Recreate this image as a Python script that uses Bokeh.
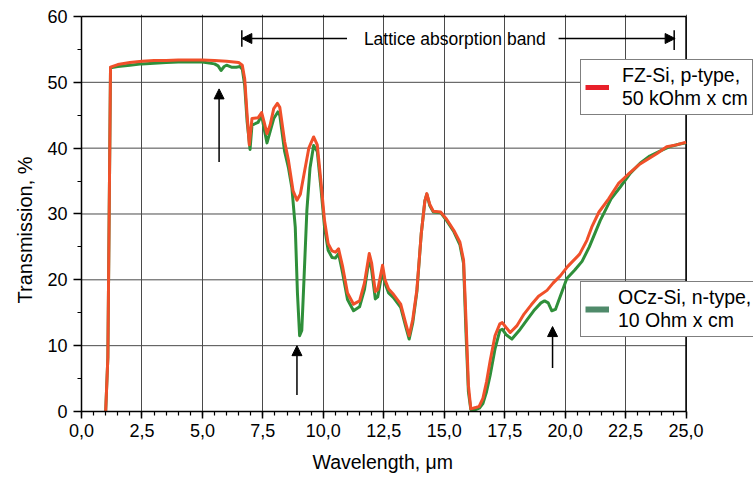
import math
from bokeh.plotting import figure
from bokeh.models import (Range1d, SingleIntervalTicker, CustomJSTickFormatter, Legend, LegendItem,
                          Arrow, NormalHead, Label, Title)
from bokeh.embed import file_html
from bokeh.resources import INLINE

# FZ-Si, p-type, 50 kOhm x cm
fz_x = [1.0, 1.09, 1.2, 1.5, 2.0, 2.5, 3.0, 3.5, 4.0, 4.5, 5.0, 5.5, 6.0, 6.5, 6.65, 6.75, 6.85, 6.94,
        7.05, 7.3, 7.45, 7.55, 7.67, 7.8, 7.95, 8.1, 8.2, 8.4, 8.56, 8.75, 8.91, 9.05, 9.2, 9.4, 9.6,
        9.75, 9.9, 10.05, 10.2, 10.36, 10.5, 10.63, 10.8, 11.0, 11.25, 11.5, 11.7, 11.9, 12.0, 12.15,
        12.25, 12.45, 12.55, 12.7, 12.9, 13.2, 13.4, 13.55, 13.7, 13.87, 14.05, 14.2, 14.28, 14.4,
        14.55, 14.85, 15.1, 15.4, 15.65, 15.8, 15.9, 16.0, 16.1, 16.3, 16.45, 16.6, 16.75, 16.9, 17.1,
        17.3, 17.4, 17.55, 17.73, 18.0, 18.3, 18.6, 18.9, 19.25, 19.5, 19.8, 20.1, 20.6, 20.9, 21.1,
        21.4, 21.8, 22.2, 22.6, 23.1, 23.5, 23.8, 24.2, 24.6, 25.0]
fz_y = [0.0, 8.2, 52.3, 52.7, 53.0, 53.2, 53.3, 53.3, 53.4, 53.4, 53.4, 53.3, 53.2, 53.0, 52.6, 50.5,
        45.0, 40.5, 44.5, 44.6, 45.4, 44.0, 42.2, 43.5, 46.0, 46.8, 46.2, 41.0, 38.1, 33.5, 32.1, 33.0,
        36.0, 40.0, 41.7, 40.5, 35.0, 29.0, 25.5, 24.4, 24.2, 24.7, 22.0, 18.0, 16.3, 16.8, 19.5, 24.0,
        22.5, 18.2, 18.5, 22.2, 20.0, 18.6, 17.8, 16.3, 13.5, 11.5, 14.0, 18.5, 27.0, 32.0, 33.1, 31.5,
        30.4, 30.3, 29.2, 27.5, 25.7, 23.0, 14.0, 4.0, 0.4, 0.6, 0.8, 2.0, 4.5, 7.7, 11.5, 13.3, 13.5,
        12.8, 12.0, 13.0, 14.8, 16.2, 17.5, 18.4, 19.5, 20.6, 22.0, 23.9, 26.0, 28.0, 30.3, 32.3, 34.6,
        36.0, 37.6, 38.5, 39.2, 40.2, 40.5, 40.9]

# OCz-Si, n-type, 10 Ohm x cm
ocz_x = [1.0, 1.09, 1.2, 1.5, 2.0, 2.5, 3.0, 3.5, 4.0, 4.5, 5.0, 5.5, 5.65, 5.77, 5.9, 6.0, 6.2, 6.4,
         6.55, 6.65, 6.75, 6.85, 6.97, 7.05, 7.3, 7.45, 7.55, 7.67, 7.8, 7.95, 8.12, 8.2, 8.4, 8.56,
         8.7, 8.84, 8.93, 9.02, 9.11, 9.2, 9.32, 9.45, 9.6, 9.75, 9.9, 10.05, 10.2, 10.36, 10.5, 10.63,
         10.8, 11.0, 11.25, 11.5, 11.7, 11.9, 12.0, 12.15, 12.25, 12.45, 12.55, 12.7, 12.9, 13.2, 13.4,
         13.55, 13.7, 13.87, 14.05, 14.2, 14.28, 14.4, 14.55, 14.85, 15.1, 15.4, 15.65, 15.8, 15.9,
         16.0, 16.1, 16.3, 16.45, 16.6, 16.75, 16.9, 17.1, 17.3, 17.4, 17.55, 17.8, 18.1, 18.4, 18.7,
         19.0, 19.15, 19.3, 19.45, 19.6, 19.8, 20.07, 20.4, 20.7, 21.0, 21.45, 21.9, 22.28, 22.7, 23.1,
         23.5, 23.9, 24.3, 24.7, 25.0]
ocz_y = [0.0, 8.2, 52.2, 52.4, 52.6, 52.8, 52.9, 53.0, 53.1, 53.1, 53.1, 52.8, 52.5, 51.8, 52.4, 52.6,
         52.3, 52.3, 52.4, 52.0, 49.5, 44.0, 39.8, 43.5, 43.9, 45.0, 43.0, 40.8, 42.5, 44.5, 45.5, 45.0,
         39.5, 37.0, 34.0, 28.0, 18.0, 11.5, 12.3, 20.0, 30.5, 37.0, 40.4, 39.5, 34.0, 28.0, 24.5, 23.4,
         23.3, 24.0, 21.0, 17.0, 15.3, 15.9, 18.5, 23.3, 21.5, 17.1, 17.4, 21.5, 19.5, 18.0, 17.3, 15.8,
         13.0, 11.0, 13.5, 18.2, 27.0, 32.0, 33.0, 31.3, 30.3, 30.2, 29.0, 27.3, 25.3, 22.5, 12.0, 3.0,
         0.3, 0.3, 0.5, 1.2, 3.0, 5.5, 9.5, 12.3, 12.5, 11.7, 11.0, 12.3, 13.8, 15.3, 16.5, 16.8, 16.5,
         15.3, 15.5, 17.5, 20.2, 21.5, 22.8, 25.0, 29.0, 32.3, 34.1, 36.2, 37.7, 38.8, 39.5, 40.2, 40.6,
         40.8]

# axis extents and gridlines
x_min, x_max = 0.0, 25.0
y_min, y_max = 0.0, 60.0
y_grid_ticks = [10, 20, 30, 40, 50]

# annotations (data coordinates)
band_text = "Lattice absorption band"
band_left = [10.98, 6.63]     # arrow from, to
band_right = [19.73, 24.55]
band_y = 56.65
up_arrows_x = [5.69, 8.91, 19.48]
up_arrows_y0 = [37.9, 2.5, 6.6]
up_arrows_y1 = [49.0, 10.0, 12.9]

FONT = "Liberation Sans"
RED = "#f0502a"
GREEN = "#2f8f3a"

# frame extends past x=25 (and a little above 60) so the legends can reach the picture edge
p = figure(width=753, height=481, output_backend="svg", toolbar_location=None,
           x_range=Range1d(x_min, 27.79), y_range=Range1d(y_min, 60.3),
           min_border_left=81, min_border_right=0, min_border_top=14, min_border_bottom=70)
p.background_fill_color = "white"
p.border_fill_color = "white"
p.outline_line_color = None

p.xaxis.ticker = SingleIntervalTicker(interval=2.5, num_minor_ticks=5)
p.yaxis.ticker = SingleIntervalTicker(interval=10, num_minor_ticks=2)
p.xaxis.bounds = (x_min, x_max)
p.yaxis.bounds = (y_min, y_max)
p.xgrid.bounds = (x_min, x_max)
p.xaxis.formatter = CustomJSTickFormatter(code="return tick.toFixed(1).replace('.', ',');")
for ax in (p.xaxis, p.yaxis):
    ax.axis_line_color = "black"
    ax.axis_line_width = 1.5
    ax.major_tick_line_color = "black"
    ax.major_tick_line_width = 1.5
    ax.minor_tick_line_color = "black"
    ax.minor_tick_line_width = 1.2
    ax.major_tick_in = 0
    ax.minor_tick_in = 0
    ax.minor_tick_out = 4
    ax.major_label_text_font = FONT
    ax.major_label_text_font_size = "18px"
    ax.major_label_text_color = "black"
p.xaxis.major_tick_out = 7
p.yaxis.major_tick_out = 8
p.xaxis.major_label_standoff = 5
p.yaxis.major_label_standoff = 6

p.xgrid.grid_line_color = "#4a4a4a"
p.xgrid.grid_line_width = 1
p.ygrid.grid_line_color = None
# horizontal grid lines only across the data area (0..25)
p.segment(x0=[x_min] * len(y_grid_ticks), y0=y_grid_ticks, x1=[x_max] * len(y_grid_ticks),
          y1=y_grid_ticks, line_color="#4a4a4a", line_width=1)
# top and right frame borders
p.segment(x0=[x_min, x_max], y0=[y_max, y_min], x1=[x_max, x_max], y1=[y_max, y_max],
          line_color="black", line_width=1.5)

p.line(ocz_x, ocz_y, line_color=GREEN, line_width=3, line_join="round")
p.line(fz_x, fz_y, line_color=RED, line_width=3, line_join="round")

# axis titles placed as side titles (positioned like the reference)
p.add_layout(Title(text="Transmission, %", align="left", offset=108, standoff=18,
                   text_font=FONT, text_font_size="20px", text_font_style="normal",
                   text_color="black"), "left")
p.add_layout(Title(text="Wavelength, \u03bcm", align="left", offset=231, standoff=18,
                   text_font=FONT, text_font_size="19.5px", text_font_style="normal",
                   text_color="black"), "below")

# lattice absorption band annotation
p.add_layout(Label(x=15.44, y=band_y, text=band_text, text_align="center", text_baseline="middle",
                   text_font=FONT, text_font_size="17.5px", text_color="black"))
p.add_layout(Arrow(x_start=band_left[0], y_start=band_y, x_end=band_left[1], y_end=band_y,
                   line_width=1.5, end=NormalHead(size=10, fill_color="black", line_color="black")))
p.add_layout(Arrow(x_start=band_right[0], y_start=band_y, x_end=band_right[1], y_end=band_y,
                   line_width=1.5, end=NormalHead(size=10, fill_color="black", line_color="black")))
p.segment(x0=[band_left[1], band_right[1] - 0.04], y0=[55.4, 54.9],
          x1=[band_left[1], band_right[1] - 0.04], y1=[57.9, 57.9], line_color="black", line_width=1.5)

for xa, ya0, ya1 in zip(up_arrows_x, up_arrows_y0, up_arrows_y1):
    p.add_layout(Arrow(x_start=xa, y_start=ya0, x_end=xa, y_end=ya1, line_width=1.5,
                       end=NormalHead(size=10, fill_color="black", line_color="black")))

# legend swatch renderers (zero-length, only used for the legend glyphs)
sw_fz = p.line(x=[x_min, x_min], y=[y_min, y_min], line_color="#e8202a", line_width=5)
sw_ocz = p.line(x=[x_min, x_min], y=[y_min, y_min], line_color="#4f8a6a", line_width=6)

def make_legend(label, rend, loc, standoff):
    return Legend(items=[LegendItem(label=label, renderers=[rend])], location=loc,
                  orientation="vertical", padding=4, margin=0, glyph_width=24, glyph_height=20,
                  label_standoff=standoff, label_text_font=FONT, label_text_font_size="19.5px",
                  label_text_line_height=1.2, label_text_color="black",
                  border_line_color="black", border_line_width=1.2, background_fill_alpha=1.0,
                  background_fill_color="white")

p.add_layout(make_legend("FZ-Si, p-type,\n50 kOhm x cm", sw_fz, (499, 296), 13))
p.add_layout(make_legend("OCz-Si, n-type,\n10 Ohm x cm", sw_ocz, (499, 74), 9))

open("out.html", "w").write(file_html(p, INLINE))
